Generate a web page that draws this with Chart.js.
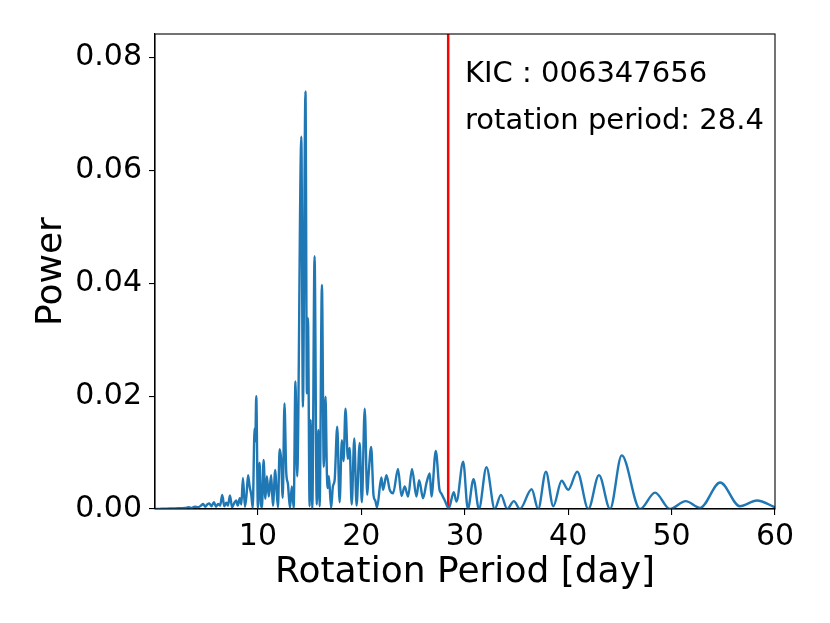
<!DOCTYPE html>
<html>
<head>
<meta charset="utf-8">
<script src="https://cdn.jsdelivr.net/npm/chart.js@4.4.0/dist/chart.umd.min.js"></script>
<style>
    html, body { margin: 0; padding: 0; background: #fff; }
    #wrap { width: 830px; height: 623px; position: relative; }
</style>
</head>
<body>
<div id="wrap"><canvas id="chart"></canvas></div>
<script>
// Periodogram: period [day] and power
const periods = [
    0.0, 0.5, 1.0, 1.5, 2.0, 2.5, 3.0, 3.3, 3.6, 3.9, 4.2, 4.5, 4.7, 4.9, 5.1, 5.3, 5.5,
    5.75, 5.95, 6.15, 6.35, 6.55, 6.75, 6.95, 7.1, 7.3, 7.5, 7.7, 7.9, 8.05, 8.25, 8.4,
    8.55, 8.75, 8.9, 9.05, 9.2, 9.36, 9.5, 9.68, 9.75, 9.84, 10.0, 10.16, 10.3, 10.39,
    10.55, 10.72, 10.87, 11.05, 11.28, 11.45, 11.68, 11.78, 11.94, 12.1, 12.25, 12.4,
    12.57, 12.74, 12.9, 13.1, 13.28, 13.46, 13.63, 13.8, 14.2, 14.35, 14.6, 14.74, 14.84,
    15.0, 15.1, 15.26, 15.48, 15.69, 15.85, 15.97, 16.19, 16.37, 16.54, 16.67, 16.76,
    16.86, 17.08, 17.25, 17.42, 17.67, 17.9, 18.12, 18.28, 18.47, 18.7, 18.87, 19.07,
    19.32, 19.54, 19.84, 20.05, 20.33, 20.57, 20.7, 20.95, 21.18, 21.35, 21.52, 21.94,
    22.1, 22.43, 22.75, 23.07, 23.55, 23.88, 24.2, 24.52, 24.9, 25.33, 25.59, 25.97,
    26.3, 26.62, 26.78, 27.2, 27.55, 27.75, 28.05, 28.45, 28.94, 29.2, 29.85, 30.3,
    30.85, 31.37, 32.1, 32.9, 33.5, 34.1, 34.75, 35.33, 36.47, 37.1, 37.85, 38.56,
    39.37, 40.0, 40.88, 41.95, 42.98, 44.05, 45.18, 46.95, 48.4, 49.85, 51.37, 52.76,
    54.7, 56.6, 58.25, 60.0,
];
const power = [
    0.0, 0.00003, 0.00005, 0.0001, 0.0001, 0.00015, 0.0002, 0.0003, 0.0002, 0.0004, 0.0003, 0.0006, 0.0009, 0.0004, 0.0008, 0.001, 0.0005,
    0.0012, 0.0004, 0.0009, 0.0006, 0.0025, 0.0005, 0.0011, 0.0006, 0.0024, 0.0003, 0.001, 0.0015, 0.0006, 0.0019, 0.0008,
    0.0055, 0.0004, 0.0025, 0.006, 0.004, 0.0025, 0.0002, 0.0143, 0.012, 0.02, 0.0002, 0.0082, 0.0008, 0.0003,
    0.0087, 0.0018, 0.0058, 0.0022, 0.006, 0.0006, 0.0069, 0.004, 0.0003, 0.0106, 0.0087, 0.002,
    0.0187, 0.0065, 0.0045, 0.0002, 0.004, 0.0002, 0.0226, 0.0058, 0.066, 0.0181, 0.074, 0.0205, 0.0338,
    0.0005, 0.0158, 0.0001, 0.0448, 0.0008, 0.014, 0.0005, 0.0397, 0.0075, 0.0199, 0.0064, 0.0037,
    0.0058, 0.0002, 0.004, 0.0051, 0.0146, 0.0012, 0.0122, 0.0085, 0.0178, 0.0089, 0.0108, 0.0008,
    0.0125, 0.0006, 0.0117, 0.0012, 0.0178, 0.0025, 0.006, 0.011, 0.0024, 0.0015, 0.0003, 0.0056,
    0.0034, 0.006, 0.0034, 0.0028, 0.0071, 0.0023, 0.004, 0.0022, 0.0071, 0.0022, 0.0051, 0.0019,
    0.0046, 0.0063, 0.0022, 0.0103, 0.0035, 0.0027, 0.0016, 0.0001, 0.003, 0.0013, 0.0084, 0.0,
    0.0053, 0.0, 0.0074, 0.0, 0.0025, 0.0, 0.0014, 0.0, 0.0035, 0.0, 0.0066, 0.0005,
    0.005, 0.0034, 0.0066, 0.0, 0.006, 0.0, 0.0095, 0.0, 0.0029, 0.0, 0.0014, 0.0002,
    0.0047, 0.0005, 0.0015, 0.0003,
];
const kicId = '006347656';
const rotationPeriod = 28.4;
const xTicks = [10, 20, 30, 40, 50, 60];
const yTicks = [0.0, 0.02, 0.04, 0.06, 0.08];

const FONT = "'DejaVu Sans', sans-serif";
const X_MIN = 0.05;
const X_MAX = 60;
const Y_MAX = 0.0842;

// Frame on all four sides plus the text block in axes fraction
const pluginFrame = {
    id: 'frame',
    afterDraw: function(chart) {
        'use strict';
        const {ctx, chartArea} = chart;
        const w = chartArea.right - chartArea.left;
        const h = chartArea.bottom - chartArea.top;
        ctx.save();
        ctx.strokeStyle = '#000';
        ctx.lineWidth = 1.1;
        ctx.strokeRect(chartArea.left, chartArea.top, w, h);

        ctx.fillStyle = '#000';
        ctx.font = '29px ' + FONT;
        ctx.textAlign = 'left';
        ctx.textBaseline = 'alphabetic';
        const tx = chartArea.left + 0.5 * w;
        ctx.fillText('KIC : ' + kicId, tx, chartArea.bottom - 0.9 * h);
        ctx.fillText('rotation period: ' + rotationPeriod, tx, chartArea.bottom - 0.8 * h);
        ctx.restore();
    },
};

const points = periods.map((p, i) => ({x: p, y: power[i]}));

new Chart(document.getElementById('chart'), {
    type: 'line',
    data: {
        datasets: [
            {
                data: points,
                borderColor: '#1f77b4',
                borderWidth: 2.4,
                pointRadius: 0,
                cubicInterpolationMode: 'monotone',
                fill: false,
            },
            {
                data: [{x: rotationPeriod, y: 0}, {x: rotationPeriod, y: Y_MAX}],
                borderColor: '#ff0000',
                borderWidth: 2.5,
                pointRadius: 0,
                fill: false,
            },
        ],
    },
    options: {
        responsive: true,
        maintainAspectRatio: false,
        animation: false,
        layout: {
            padding: {left: 0, right: 55, top: 34, bottom: 0},
        },
        scales: {
            x: {
                type: 'linear',
                min: X_MIN,
                max: X_MAX,
                afterBuildTicks: function(scale) {
                    scale.ticks = xTicks.map(v => ({value: v}));
                },
                afterFit: function(scale) {
                    scale.height = 114;
                },
                grid: {
                    drawOnChartArea: false,
                    drawTicks: true,
                    tickLength: 6,
                    color: '#000',
                    lineWidth: 1.1,
                },
                border: {display: true, color: '#000', width: 1.1},
                ticks: {
                    color: '#000',
                    padding: 4,
                    font: {family: FONT, size: 30},
                    maxRotation: 0,
                    autoSkip: false,
                    callback: v => String(v),
                },
                title: {
                    display: true,
                    text: 'Rotation Period [day]',
                    color: '#000',
                    font: {family: FONT, size: 36, lineHeight: 1.2},
                    padding: {top: 0, bottom: 29},
                },
            },
            y: {
                type: 'linear',
                min: 0,
                max: Y_MAX,
                afterBuildTicks: function(scale) {
                    scale.ticks = yTicks.map(v => ({value: v}));
                },
                afterFit: function(scale) {
                    scale.width = 155;
                },
                grid: {
                    drawOnChartArea: false,
                    drawTicks: true,
                    tickLength: 6,
                    color: '#000',
                    lineWidth: 1.1,
                },
                border: {display: true, color: '#000', width: 1.1},
                ticks: {
                    color: '#000',
                    padding: 7,
                    font: {family: FONT, size: 30},
                    callback: v => v.toFixed(2),
                },
                title: {
                    display: true,
                    text: 'Power',
                    color: '#000',
                    font: {family: FONT, size: 36, lineHeight: 1.2},
                    padding: {top: 30, bottom: 0},
                },
            },
        },
        plugins: {
            legend: {display: false},
            tooltip: {enabled: false},
        },
    },
    plugins: [pluginFrame],
});
</script>
</body>
</html>
